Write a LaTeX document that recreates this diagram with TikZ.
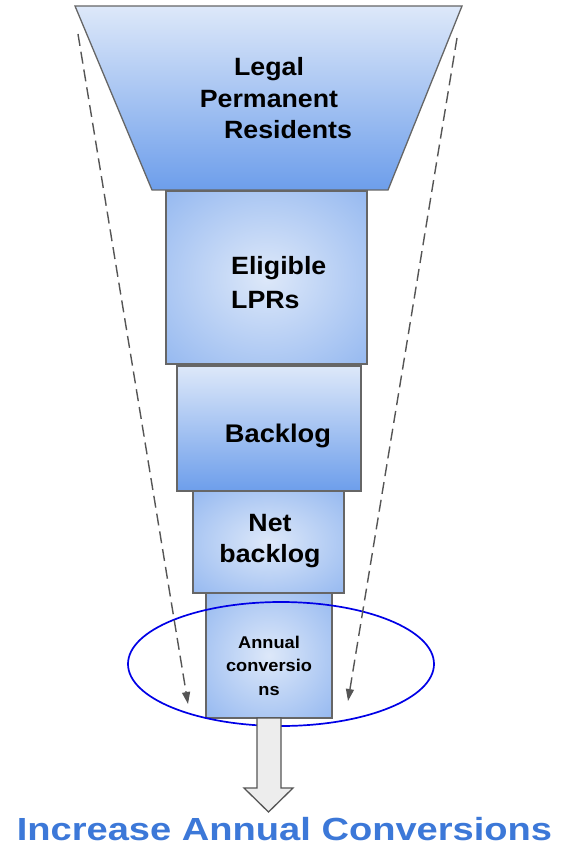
\documentclass[tikz,border=0pt]{standalone}
\usepackage{fontspec}
\setmainfont{Liberation Sans}[FakeStretch=1.07]
\newfontfamily\goalfont{Liberation Sans}[FakeStretch=1.19]
\usepackage{tikz}
\usetikzlibrary{arrows.meta}

\definecolor{funnelLight}{HTML}{DDE8F9}
\definecolor{funnelBlue}{HTML}{6D9EEB}
\definecolor{edgeGray}{HTML}{666666}
\definecolor{guideGray}{HTML}{555555}
\definecolor{ringBlue}{HTML}{0000E6}
\definecolor{titleBlue}{HTML}{3C78D8}

\pgfdeclareradialshading{stageglow}{\pgfpoint{0bp}{0bp}}{%
  color(0bp)=(funnelLight); color(50bp)=(funnelBlue!92!white); color(72bp)=(funnelBlue)}

\tikzset{
  stage/.style={draw=edgeGray, line width=1.3pt},
  flatstage/.style={stage, top color=funnelLight, bottom color=funnelBlue},
  glowstage/.style={stage, shading=stageglow},
  stagetext/.style={font=\fontsize{25}{31.5}\selectfont\bfseries, align=center, inner sep=0pt},
  guide/.style={draw=guideGray, line width=1.4pt, dash pattern=on 12pt off 6pt,
    -{Triangle[length=12pt, width=8pt]}}
}

\begin{document}
\begin{tikzpicture}[x=1pt, y=-1pt]
    \useasboundingbox (0,0) rectangle (570,850);

    % funnel stages
    \draw[flatstage] (75,6) -- (462,6) -- (388,190) -- (152,190) -- cycle;
    \draw[glowstage] (166,191) rectangle (367,364);
    \draw[flatstage] (177,366) rectangle (361,491);
    \draw[glowstage] (193,491) rectangle (344,593);
    \draw[glowstage] (206,593) rectangle (332,718);

    % stage texts
    \node[stagetext] (lpr) at (269,98.5) {Legal\\Permanent\\\hspace*{38pt}Residents};
    \node[stagetext, align=left, anchor=west, font=\fontsize{25}{34}\selectfont\bfseries]
        (eligible) at (231,283) {Eligible\\LPRs};
    \node[stagetext, anchor=base, font=\fontsize{25.5}{31}\selectfont\bfseries]
        (backlog) at (278,442) {Backlog};
    \node[stagetext, font=\fontsize{25}{31}\selectfont\bfseries]
        (netbacklog) at (270,541) {Net\\backlog};
    \node[stagetext, font=\fontsize{17}{23.5}\selectfont\bfseries]
        (annual) at (269,665.5) {Annual\\conversio\\ns};

    % focus ring
    \draw[ringBlue, line width=1.7pt] (281,664) ellipse [x radius=153, y radius=62];

    % narrowing guides
    \coordinate (leftstart) at (78,34);
    \coordinate (lefttip) at (188,704);
    \coordinate (rightstart) at (457,38);
    \coordinate (righttip) at (348,701);
    \draw[guide] (leftstart) -- (lefttip);
    \draw[guide] (rightstart) -- (righttip);

    % outflow arrow
    \draw[fill=black!7, draw=guideGray, line width=1.3pt, line join=miter]
        (257,718) -- (281,718) -- (281,788) -- (293,788) -- (268.5,812)
        -- (244,788) -- (257,788) -- cycle;

    \node[font=\goalfont\fontsize{32}{36}\selectfont\bfseries, text=titleBlue, inner sep=0pt]
        (goal) at (284.5,829) {Increase Annual Conversions};
\end{tikzpicture}
\end{document}
